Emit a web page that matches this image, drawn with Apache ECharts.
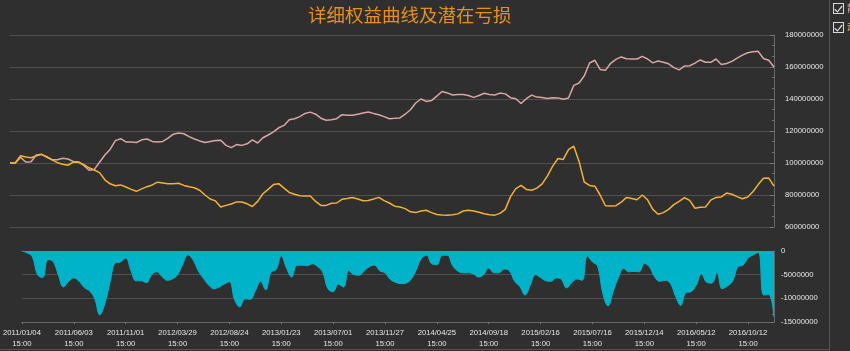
<!DOCTYPE html>
<html>
<head>
<meta charset="utf-8">
<script src="https://cdn.jsdelivr.net/npm/echarts@6/dist/echarts.min.js"></script>
<style>
html,body{margin:0;padding:0;background:#2f2f2f;}
#main{width:850px;height:351px;}
</style>
</head>
<body>
<div id="main"></div>
<script>
// tick labels shown every 10 points on the bottom axis
const dateLabels = ['2011/01/04','2011/06/03','2011/11/01','2012/03/29','2012/08/24','2013/01/23','2013/07/01','2013/11/27',
    '2014/04/25','2014/09/18','2015/02/16','2015/07/16','2015/12/14','2016/05/12','2016/10/12'];
const seriesNames = ['静态权益', '动态权益'];

// values in millions (1e6)
const equityA = [100,100,103.5,100.6,100.8,105,105.4,103.5,102,102,
    103,102.5,101,100.6,98.5,95.5,96,100.5,105,108.5,
    114,115.2,113.2,113.1,112.8,114.5,115,113.5,113.1,113.5,
    115.5,118,118.8,118.3,116.5,115,113.8,112.8,113.5,114,
    114.2,111,109.6,111.5,111,112,114.5,112.5,115.8,117.5,
    119.5,122,123.5,127,127.7,129,131,131.8,130.5,128,
    126.7,127,127.7,130.2,129.8,129.8,130.5,131.2,131.9,131,
    130.2,129,127.7,127.9,128.2,130.5,133.3,137.5,140,138.5,
    139,141.8,144.7,143.8,142.5,142.8,142.8,142.2,141,142.2,
    143.6,142.8,142.5,143.7,143.2,140.8,140.2,137.2,140.2,142.4,
    141.2,140.9,140.3,140.8,140.7,139.8,140.6,148.5,150,154.5,
    162.5,164.2,158.5,157.9,162.3,164.8,166.3,165.2,165,165,
    166.6,165,162.6,163.7,163,162,159.6,158.2,160.6,160.8,
    162.4,164.4,163,162.9,165,161.5,162.2,163.5,165.6,167.4,
    168.9,169.5,169.8,165.3,164.2,160];
const equityB = [100,100,104.5,103.7,103.3,104.5,105.4,104,102,100.2,
    99.2,98.6,100.5,100.6,99,97,95.6,94,89.5,87,
    85.8,86.3,85,83.5,82.3,83.8,85.2,86.3,88,87.5,
    87,87,87.3,86,85.2,84.5,83,80,77.5,76.3,
    72.5,73.5,74.4,75.7,75.6,74.5,72.8,76,80.8,83.5,
    86.5,87.1,84.3,81.6,80.5,79.5,79.4,79.4,76,73.5,
    73.5,74.8,75,77.3,77.8,78.4,77.5,76.4,76.6,77.5,
    78.5,76.5,75,73,72.5,71.5,69.5,69,70,70.5,
    69,67.8,67.5,67.3,67.6,68.2,70,70.4,70,69.2,
    68.3,67.6,67.4,68.5,71,79,84,86,83.5,83,
    84.3,87,92,98,102.8,102.2,108.3,110.5,101,88,
    86,85.5,80,73.3,73.1,73.3,75.5,78.5,77.8,77,
    80,77,71,68,69,71,74,76,78.3,76.6,
    71.7,72.4,72.5,76.8,78.5,78.8,81.2,80.5,79,77.7,
    78.75,82,86.5,90.5,90.6,85.6];
const potentialLoss = [0,-0.4,-1.2,-5,-5.6,-1.8,-2.2,-5,-7.6,-6.4,
    -5.7,-6.4,-7.7,-8.4,-10,-13.5,-11,-6.5,-2.5,-2.3,
    -1.5,-4.1,-6.3,-6.3,-6.7,-5,-4.4,-5.4,-6.2,-5.9,
    -5,-2.8,-0.8,-1.9,-4.2,-5.8,-7.2,-8,-7.6,-7,
    -6.5,-10.3,-11.8,-10.1,-10.2,-8.4,-6.4,-8.2,-4.5,-3.9,
    -1,-3.6,-5.5,-3,-3,-3.1,-2.7,-3.3,-4.5,-8,
    -8.6,-7,-7.6,-4.1,-5,-5.1,-4.2,-3.3,-3,-4.2,
    -4.6,-6,-6.6,-6.9,-6.8,-6,-4,-1.6,-0.9,-2.7,
    -2.9,-0.9,-0.9,-3,-4.2,-4.6,-4.6,-4.8,-5.5,-5,
    -3.6,-4.6,-4.6,-3.8,-4.2,-6.4,-7.5,-9.3,-7.2,-5,
    -5.6,-6.3,-6.4,-5.7,-6,-7.8,-6.7,-5.9,-6.2,-1,
    -2.3,-3.2,-9,-11.6,-8.5,-5.6,-3.7,-4.4,-4.3,-4.4,
    -2.6,-3.4,-5.5,-6.4,-6.2,-6.8,-9.5,-11.5,-8.8,-8.6,
    -7.2,-4.8,-6.6,-6.8,-4.5,-8,-7.4,-6.4,-3.4,-3,
    -1.5,-0.8,-0.3,-9.3,-9.2,-13.9];

const toPairs = arr => arr.map((v, i) => [i, v]);
const bigNum = v => String(Math.round(v * 1000000));
const axisFont = {color: '#e6e6e6', fontSize: 7.7, fontFamily: 'Liberation Sans'};
const checkIcon = 'path://M0,0L16,0L16,16L0,16Z M1.5,1.5L1.5,14.5L14.5,14.5L14.5,1.5Z M3,8.5L6.5,11.5L12.5,3.5L14,5L6.5,14L1.8,9.8Z';

const chart = echarts.init(document.getElementById('main'));
chart.setOption({
    backgroundColor: '#2f2f2f',
    animation: false,
    title: {
        text: '详细权益曲线及潜在亏损',
        left: 303, top: 1,
        textStyle: {color: '#e8901c', fontSize: 18.5, fontWeight: 'normal', fontFamily: 'Noto Sans CJK SC'}
    },
    legend: {
        orient: 'vertical', left: 833, top: 3, padding: 0,
        itemWidth: 11, itemHeight: 11, itemGap: 8,
        data: [
            {name: seriesNames[0], icon: checkIcon, itemStyle: {color: '#d8d8d8'}, textStyle: {color: '#d9a6a6'}},
            {name: seriesNames[1], icon: checkIcon, itemStyle: {color: '#d8d8d8'}, textStyle: {color: '#f2b233'}}
        ],
        textStyle: {fontSize: 10, fontFamily: 'Noto Sans CJK SC', padding: [0, 0, 0, -2]}
    },
    graphic: [
        {type: 'line', shape: {x1: 829.5, y1: 0, x2: 829.5, y2: 351}, style: {stroke: '#555', lineWidth: 1}},
        {type: 'line', shape: {x1: 0, y1: 349.5, x2: 829.5, y2: 349.5}, style: {stroke: '#555', lineWidth: 1}}
    ],
    grid: [
        {left: 10, right: 76, top: 35, height: 192},
        {left: 10, right: 76, top: 251, height: 71}
    ],
    xAxis: [
        {type: 'value', gridIndex: 0, min: 0, max: 145, show: false},
        {
            type: 'value', gridIndex: 1, min: 0, max: 145, interval: 10,
            axisLine: {onZero: false, lineStyle: {color: '#666'}},
            axisTick: {length: 2, lineStyle: {color: '#777'}},
            splitLine: {show: false},
            axisLabel: Object.assign({}, axisFont, {
                margin: 5, lineHeight: 11, showMaxLabel: false, alignMinLabel: 'center',
                formatter: v => (v % 10 === 0 && dateLabels[v / 10]) ? dateLabels[v / 10] + '\n15:00' : ''
            })
        }
    ],
    yAxis: [
        {
            type: 'value', gridIndex: 0, position: 'right', min: 60, max: 180, interval: 20,
            axisLine: {show: true, onZero: false, lineStyle: {color: '#666'}},
            axisTick: {show: true, inside: true, length: 4, lineStyle: {color: '#777'}},
            minorTick: {show: true, splitNumber: 3, length: 2, lineStyle: {color: '#777'}},
            splitLine: {lineStyle: {color: '#505050'}},
            axisLabel: Object.assign({}, axisFont, {margin: 11, formatter: bigNum})
        },
        {
            type: 'value', gridIndex: 1, position: 'right', min: -15, max: 0, interval: 5,
            axisLine: {show: true, onZero: false, lineStyle: {color: '#666'}},
            axisTick: {show: true, inside: true, length: 4, lineStyle: {color: '#777'}},
            minorTick: {show: true, splitNumber: 3, length: 2, lineStyle: {color: '#777'}},
            splitLine: {lineStyle: {color: '#505050'}},
            axisLabel: Object.assign({}, axisFont, {margin: 7, formatter: bigNum})
        }
    ],
    series: [
        {
            name: seriesNames[0], type: 'line', xAxisIndex: 0, yAxisIndex: 0,
            data: toPairs(equityA), showSymbol: false,
            lineStyle: {color: '#d9a6a6', width: 1.5}, itemStyle: {color: '#d9a6a6'}
        },
        {
            name: seriesNames[1], type: 'line', xAxisIndex: 0, yAxisIndex: 0,
            data: toPairs(equityB), showSymbol: false,
            lineStyle: {color: '#f2b233', width: 1.5}, itemStyle: {color: '#f2b233'}
        },
        {
            name: '潜在亏损', type: 'line', xAxisIndex: 1, yAxisIndex: 1,
            data: toPairs(potentialLoss), showSymbol: false, smooth: 0.4,
            lineStyle: {color: '#00b3c9', width: 1}, itemStyle: {color: '#00b3c9'},
            areaStyle: {color: '#00b3c9', opacity: 1}
        }
    ]
});
</script>
</body>
</html>
